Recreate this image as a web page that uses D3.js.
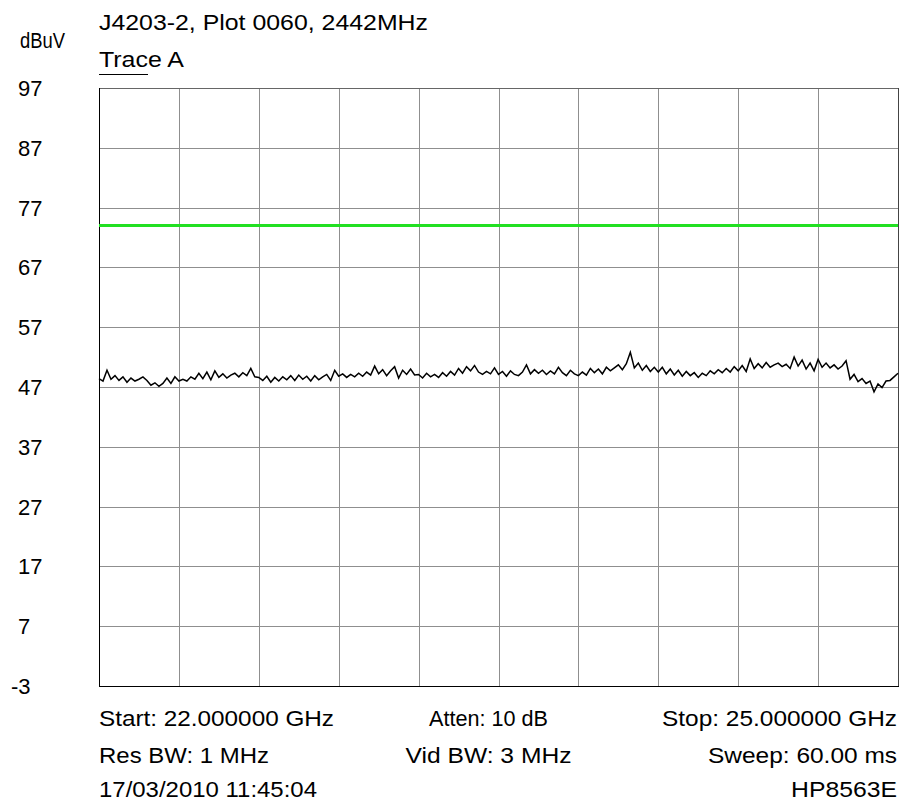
<!DOCTYPE html>
<html>
<head>
<meta charset="utf-8">
<script src="https://cdn.jsdelivr.net/npm/d3@7"></script>
<style>
  html, body { margin: 0; padding: 0; background: #fff; }
  svg { display: block; font-family: "Liberation Sans", Arial, sans-serif; }
</style>
</head>
<body>
<svg id="chart" width="901" height="802"></svg>
<script>
// Sweep settings (GHz) and amplitude scale (dBuV)
const startGHz = 22.0;
const stopGHz = 25.0;
const refLevel = 97;
const bottomLevel = -3;
const yTickValues = [97, 87, 77, 67, 57, 47, 37, 27, 17, 7, -3];
const limitLine = [74];

// Trace A amplitude readings, evenly spaced across the sweep
const traceA = [
  48.4, 48.0, 49.8, 48.3, 48.9, 48.1, 48.7, 47.8, 48.5, 48.0, 48.3, 48.7, 48.1, 47.3, 47.7, 47.1, 47.6, 48.5, 47.6, 48.7,
  48.0, 48.3, 48.0, 48.7, 48.3, 49.3, 48.4, 49.5, 48.2, 49.7, 48.6, 49.2, 48.5, 49.0, 49.3, 48.7, 49.4, 48.9, 50.1, 48.7,
  48.6, 48.1, 48.8, 47.8, 48.6, 48.0, 48.7, 48.2, 48.9, 48.1, 49.0, 48.3, 48.8, 48.0, 48.9, 48.2, 48.7, 49.1, 48.1, 49.8,
  48.8, 49.2, 48.6, 49.1, 48.7, 49.3, 48.8, 49.5, 49.0, 50.5, 49.2, 49.9, 48.9, 49.7, 50.4, 48.5, 49.8, 49.1, 50.0, 49.0,
  49.1, 48.5, 49.3, 48.7, 49.1, 48.6, 49.4, 48.8, 49.6, 49.0, 50.1, 49.3, 50.4, 49.7, 50.6, 49.5, 49.1, 49.6, 49.2, 50.2,
  49.1, 49.6, 48.8, 49.7, 49.1, 48.9, 49.5, 50.7, 49.2, 49.9, 49.3, 49.8, 49.1, 49.7, 49.2, 50.3, 49.4, 48.9, 49.8, 49.2,
  48.9, 49.5, 49.0, 50.1, 49.4, 50.0, 49.2, 50.3, 49.7, 50.2, 50.7, 49.9, 50.9, 52.8, 50.2, 51.0, 49.8, 50.6, 49.6, 50.3,
  49.5, 50.3, 49.2, 50.0, 49.0, 49.8, 48.8, 49.6, 48.9, 49.4, 48.6, 49.3, 48.9, 49.7, 49.2, 49.9, 49.4, 50.1, 49.5, 50.4,
  49.7, 50.6, 49.6, 51.7, 50.1, 50.9, 50.2, 51.1, 50.3, 50.7, 51.0, 50.4, 50.8, 50.1, 52.0, 50.5, 51.5, 50.0, 51.0, 49.7,
  51.6, 50.3, 51.0, 50.2, 50.7, 50.0, 50.5, 51.4, 48.3, 49.1, 47.9, 48.4, 47.6, 48.0, 46.2, 47.5, 46.9, 48.0, 48.1, 48.7,
  49.3
];

// Annotation texts
const titleText = "J4203-2, Plot 0060, 2442MHz";
const unitText = "dBuV";
const traceLabel = "Trace A";
const footerRows = [
  ["Start: 22.000000 GHz", "Atten: 10 dB", "Stop: 25.000000 GHz"],
  ["Res BW: 1 MHz", "Vid BW: 3 MHz", "Sweep: 60.00 ms"],
  ["17/03/2010 11:45:04", "", "HP8563E"]
];

const svg = d3.select("#chart");
const plot = { left: 99, right: 898, top: 88, bottom: 686 };
const fontSize = 22;

const freqs = traceA.map((_, i) => startGHz + (stopGHz - startGHz) * i / (traceA.length - 1));

const x = d3.scaleLinear().domain([startGHz, stopGHz]).range([plot.left, plot.right]);
const y = d3.scaleLinear().domain([bottomLevel, refLevel]).range([plot.bottom, plot.top]);

// Graticule: 10 x 10 divisions
const xDivs = d3.range(11).map(i => startGHz + (stopGHz - startGHz) * i / 10);
const grid = svg.append("g").attr("stroke", "#8f8f8f").attr("stroke-width", 1).attr("shape-rendering", "crispEdges");
grid.selectAll("line.v").data(xDivs.slice(1, 10)).join("line")
  .attr("x1", d => Math.round(x(d)) + 0.5).attr("x2", d => Math.round(x(d)) + 0.5)
  .attr("y1", plot.top).attr("y2", plot.bottom);
grid.selectAll("line.h").data(yTickValues.slice(0, 10)).join("line")
  .attr("x1", plot.left).attr("x2", plot.right)
  .attr("y1", d => Math.round(y(d)) + 0.5).attr("y2", d => Math.round(y(d)) + 0.5);

// Frame
const frame = svg.append("g").attr("shape-rendering", "crispEdges").attr("stroke-width", 1);
frame.append("line").attr("x1", plot.right + 0.5).attr("x2", plot.right + 0.5)
  .attr("y1", plot.top).attr("y2", plot.bottom).attr("stroke", "#444");
frame.append("line").attr("x1", plot.left).attr("x2", plot.right)
  .attr("y1", plot.top + 0.5).attr("y2", plot.top + 0.5).attr("stroke", "#666");
frame.append("line").attr("x1", plot.left + 0.5).attr("x2", plot.left + 0.5)
  .attr("y1", plot.top).attr("y2", plot.bottom + 1).attr("stroke", "#000");
frame.append("line").attr("x1", plot.left).attr("x2", plot.right + 1)
  .attr("y1", plot.bottom + 0.5).attr("y2", plot.bottom + 0.5).attr("stroke", "#000");

// Limit line
svg.selectAll("line.limit").data(limitLine).join("line")
  .attr("x1", plot.left).attr("x2", plot.right)
  .attr("y1", d => y(d)).attr("y2", d => y(d))
  .attr("stroke", "#22e022").attr("stroke-width", 3);

// Trace A
const line = d3.line().x((d, i) => x(freqs[i])).y(d => y(d));
svg.append("path").datum(traceA)
  .attr("d", line)
  .attr("fill", "none")
  .attr("stroke", "#000")
  .attr("stroke-width", 1.5)
  .attr("stroke-linejoin", "miter");

// Amplitude labels
svg.append("g").selectAll("text").data(yTickValues).join("text")
  .attr("x", d => d < 0 ? 11 : 18)
  .attr("y", d => y(d))
  .attr("dy", "0.36em")
  .attr("font-size", fontSize)
  .attr("fill", "#000")
  .text(d => d);

// Header texts
svg.append("text").attr("x", 99).attr("y", 30).attr("font-size", fontSize)
  .attr("textLength", 329).attr("lengthAdjust", "spacingAndGlyphs").text(titleText);
svg.append("text").attr("x", 20).attr("y", 48).attr("font-size", fontSize)
  .attr("textLength", 45).attr("lengthAdjust", "spacingAndGlyphs").text(unitText);
svg.append("text").attr("x", 99).attr("y", 67).attr("font-size", fontSize)
  .attr("textLength", 85).attr("lengthAdjust", "spacingAndGlyphs").text(traceLabel);
svg.append("line").attr("x1", 99).attr("x2", 148).attr("y1", 74.5).attr("y2", 74.5)
  .attr("stroke", "#000").attr("stroke-width", 1);

// Footer settings block
const footerY = [726, 763, 797];
const footerLengths = [[235, 119, 235], [170, 166, 189], [218, 0, 106]];
const footerX = [99, 488.5, 897];
const anchors = ["start", "middle", "end"];
footerRows.forEach((row, r) => {
  row.forEach((t, c) => {
    if (!t) return;
    svg.append("text")
      .attr("x", footerX[c]).attr("y", footerY[r])
      .attr("text-anchor", anchors[c])
      .attr("font-size", fontSize)
      .attr("textLength", footerLengths[r][c]).attr("lengthAdjust", "spacingAndGlyphs")
      .text(t);
  });
});
</script>
</body>
</html>
